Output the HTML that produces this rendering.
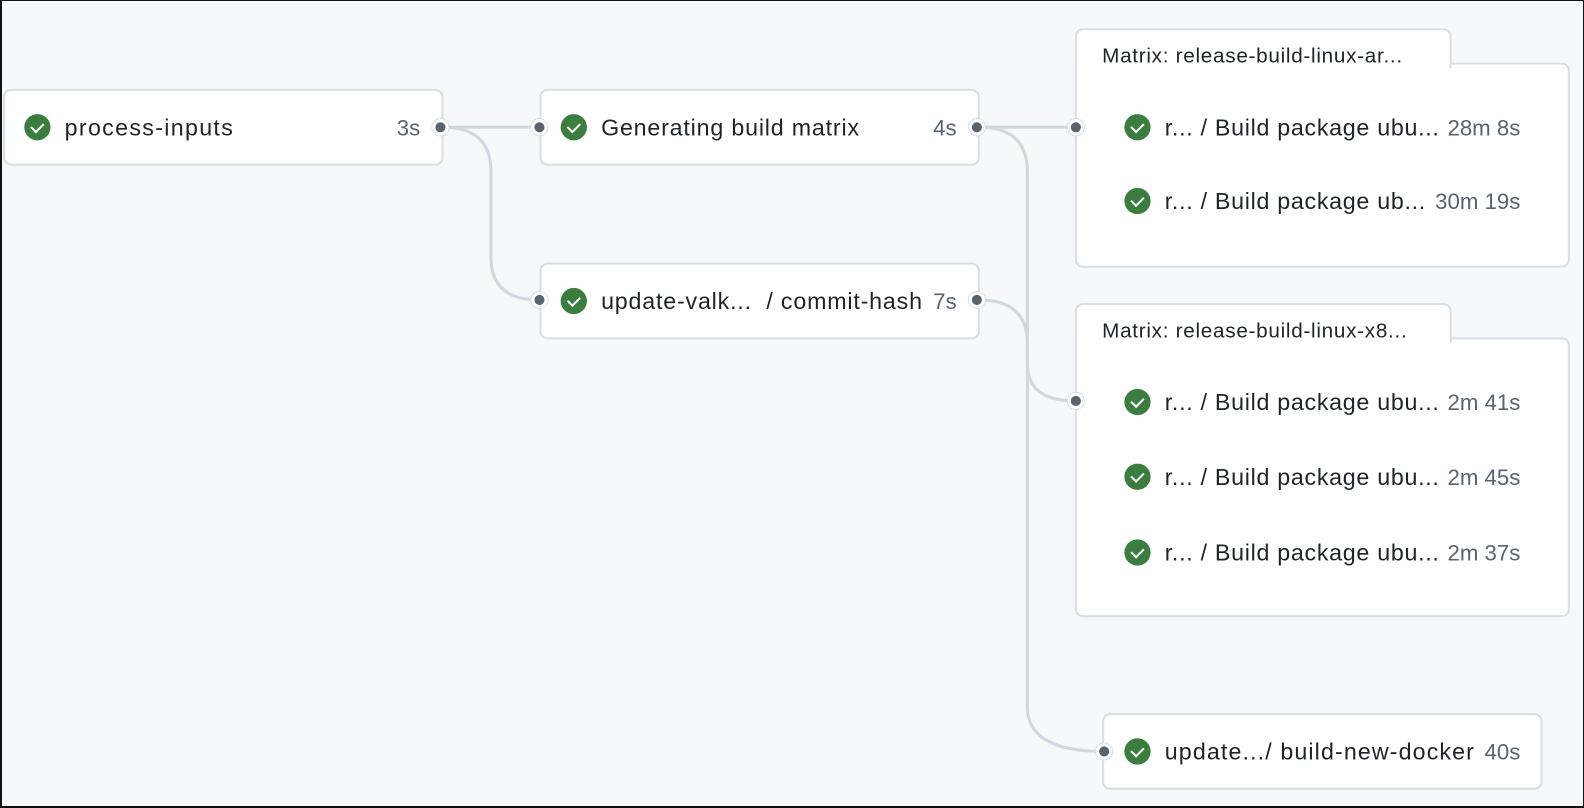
<!DOCTYPE html>
<html><head><meta charset="utf-8"><style>
*{box-sizing:border-box;margin:0;padding:0}
html,body{width:1584px;height:808px;overflow:hidden}
body{background:#f6f8fa;font-family:"Liberation Sans",sans-serif;position:relative;border-left:2px solid #111;border-bottom:2px solid #111;border-right:1px solid #111;border-top:1px solid #111}
.c{position:absolute;left:-2px;top:-1px;width:1568px;height:800px;transform:scale(1.0102,1.01);transform-origin:0 0}
.box{position:absolute;background:#fff;border:2px solid #d8dee4;border-radius:8px}
.t{position:absolute;font-size:23px;letter-spacing:0.8px;color:#1f2328;white-space:nowrap;line-height:1}
.r{font-size:23px;letter-spacing:0.7px}
.d{position:absolute;font-size:22px;color:#59636e;white-space:nowrap;line-height:1;width:200px;text-align:right}
.ic{position:absolute;width:26px;height:26px;border-radius:50%;background:#3b7d3f}
.ic:after{content:"";position:absolute;left:9px;top:6px;width:6px;height:10px;border:solid #fff;border-width:0 2.5px 2.5px 0;transform:rotate(45deg)}
.dot{position:absolute;width:18px;height:18px;border-radius:50%;background:#fff;border:1px solid #d8dee4}
.dot:after{content:"";position:absolute;left:3px;top:3px;width:10px;height:10px;border-radius:50%;background:#59636e}
.mt{position:absolute;font-size:20.5px;letter-spacing:0.7px;color:#1f2328;white-space:nowrap;line-height:1}
svg{position:absolute;left:0;top:0}
</style></head><body><div class="c">
<svg width="1568" height="800"><g fill="none" stroke="#d0d7de" stroke-width="3">
<path d="M438 126 H534"/>
<path d="M438 126 Q486 126 486 170 V255 Q486 297 534 297"/>
<path d="M969 126 H1065"/>
<path d="M969 126 Q1017 126 1017 170 V700 Q1017 744 1093 744"/>
<path d="M969 297 Q1017 297 1017 340 V360 Q1017 397 1065 397"/>
</g></svg>

<div class="box" style="left:3px;top:88px;width:436px;height:76px"></div>
<div class="ic" style="left:24px;top:113px"></div>
<div class="t" style="left:64px;top:115px;letter-spacing:1.3px">process-inputs</div>
<div class="d" style="left:216px;top:116px">3s</div>

<div class="box" style="left:534px;top:88px;width:436px;height:76px"></div>
<div class="ic" style="left:555px;top:113px"></div>
<div class="t" style="left:595px;top:115px">Generating build matrix</div>
<div class="d" style="left:747px;top:116px">4s</div>

<div class="box" style="left:534px;top:260px;width:436px;height:76px"></div>
<div class="ic" style="left:555px;top:285px"></div>
<div class="t" style="left:595px;top:287px">update-valk...&nbsp; / commit-hash</div>
<div class="d" style="left:747px;top:288px">7s</div>

<!-- matrix 1 -->
<div class="box" style="left:1064px;top:62px;width:490px;height:203px;border-top-left-radius:0"></div>
<div class="box" style="left:1064px;top:28px;width:373px;height:40px;border-bottom:none;border-radius:8px 8px 0 0"></div>
<div style="position:absolute;left:1066px;top:60px;width:369px;height:8px;background:#fff"></div>
<div class="mt" style="left:1091px;top:46px">Matrix: release-build-linux-ar...</div>
<div class="ic" style="left:1113px;top:113px"></div>
<div class="t r" style="left:1153px;top:115px">r... / Build package ubu...</div>
<div class="d" style="left:1305px;top:116px">28m 8s</div>
<div class="ic" style="left:1113px;top:186px"></div>
<div class="t r" style="left:1153px;top:188px">r... / Build package ub...</div>
<div class="d" style="left:1305px;top:189px">30m 19s</div>

<!-- matrix 2 -->
<div class="box" style="left:1064px;top:334px;width:490px;height:277px;border-top-left-radius:0"></div>
<div class="box" style="left:1064px;top:300px;width:373px;height:40px;border-bottom:none;border-radius:8px 8px 0 0"></div>
<div style="position:absolute;left:1066px;top:332px;width:369px;height:8px;background:#fff"></div>
<div class="mt" style="left:1091px;top:318px">Matrix: release-build-linux-x8...</div>
<div class="ic" style="left:1113px;top:385px"></div>
<div class="t r" style="left:1153px;top:387px">r... / Build package ubu...</div>
<div class="d" style="left:1305px;top:388px">2m 41s</div>
<div class="ic" style="left:1113px;top:459px"></div>
<div class="t r" style="left:1153px;top:461px">r... / Build package ubu...</div>
<div class="d" style="left:1305px;top:462px">2m 45s</div>
<div class="ic" style="left:1113px;top:534px"></div>
<div class="t r" style="left:1153px;top:536px">r... / Build package ubu...</div>
<div class="d" style="left:1305px;top:537px">2m 37s</div>

<div class="box" style="left:1091px;top:706px;width:436px;height:76px"></div>
<div class="ic" style="left:1113px;top:731px"></div>
<div class="t" style="left:1153px;top:733px;letter-spacing:1.1px">update.../ build-new-docker</div>
<div class="d" style="left:1305px;top:734px">40s</div>

<div class="dot" style="left:427px;top:117px"></div>
<div class="dot" style="left:525px;top:117px"></div>
<div class="dot" style="left:958px;top:117px"></div>
<div class="dot" style="left:525px;top:288px"></div>
<div class="dot" style="left:958px;top:288px"></div>
<div class="dot" style="left:1056px;top:117px"></div>
<div class="dot" style="left:1056px;top:388px"></div>
<div class="dot" style="left:1084px;top:735px"></div>
</div></body></html>
